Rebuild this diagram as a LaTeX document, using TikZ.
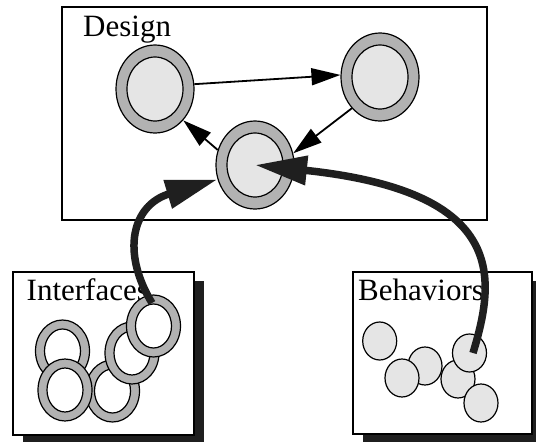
\documentclass[tikz,border=0pt]{standalone}
\usepackage{fontspec}
\setmainfont{Liberation Serif}
\usetikzlibrary{arrows.meta,shapes.geometric}
\tikzset{
  frame/.style={draw=black,line width=1.2pt,fill=white},
  shadowbox/.style={fill=black!88,draw=none},
  title text/.style={font=\fontsize{31}{37}\selectfont,anchor=base west,inner sep=0pt},
  statering/.style={ellipse,draw=black,line width=1.2pt,fill=gray!60,
    minimum width=78pt,minimum height=88pt,inner sep=0pt},
  statecore/.style={ellipse,draw=black,line width=1.2pt,fill=gray!20,
    minimum width=56pt,minimum height=64pt,inner sep=0pt},
  portring/.style={ellipse,draw=black,line width=1.2pt,fill=gray!60,
    minimum width=54pt,minimum height=62pt,inner sep=0pt},
  porthole/.style={ellipse,draw=black,line width=1.2pt,fill=white,
    minimum width=36pt,minimum height=44pt,inner sep=0pt},
  behdisc/.style={ellipse,draw=black,line width=1.2pt,fill=gray!20,
    minimum width=34pt,minimum height=38pt,inner sep=0pt},
  thin arrow/.style={draw=black,line width=1.8pt,-{Triangle[length=29pt,width=17pt]}},
  thick arrow/.style={draw=black!88,line width=7.5pt,-{Triangle[length=52pt,width=28pt]}},
}
\begin{document}
\begin{tikzpicture}[x=1pt,y=-1pt]
\useasboundingbox (0,0) rectangle (536,442);

% ---- Design panel ----
\path[frame] (62,7) rectangle (487,220);
\node[title text] (designlabel) at (83,36) {Design};

\node[statering] (L) at (155,89) {};
\node[statecore] (Li) at (L.center) {};
\node[statering] (R) at (380,77) {};
\node[statecore] (Ri) at (R.center) {};
\node[statering] (C) at (255,165) {};
\node[statecore] (Ci) at (C.center) {};

\draw[thin arrow] (L.7) -- (R.177);
\draw[thin arrow] (C.158) -- (L.312);
\draw[thin arrow] (R.228) -- (C.17);

% ---- Interfaces panel ----
\path[shadowbox] (23,281) rectangle (204,443);
\path[frame] (13,272) rectangle (194,435);
\node[title text] (iflabel) at (26.5,300) {Interfaces};

\node[portring] (A) at (62.5,351) {};
\node[porthole] (Ah) at (A.center) {};
\node[portring] (Cc) at (112.5,391) {};
\node[porthole] (Cch) at (Cc.center) {};
\node[portring] (B) at (65,390) {};
\node[porthole] (Bh) at (B.center) {};
\node[portring] (D) at (132,353) {};
\node[porthole] (Dh) at (D.center) {};
\node[portring] (E) at (153.5,326) {};
\node[porthole] (Eh) at (E.center) {};

% ---- Behaviors panel ----
\path[shadowbox] (363,281) rectangle (542,443);
\path[frame] (353,272) rectangle (532,434);
\node[title text] (behlabel) at (358,300) {Behaviors};

\node[behdisc] (b1) at (379.7,341) {};
\node[behdisc] (b2) at (425,366) {};
\node[behdisc] (b3) at (402,378) {};
\node[behdisc] (b4) at (458,379) {};
\node[behdisc] (b5) at (469.5,353) {};
\node[behdisc] (b6) at (481,403) {};

% ---- links into the design ----
\coordinate (s1) at (152,303);
\coordinate (s2) at (473,353);
\draw[thick arrow] (s1) .. controls (121,252) and (132,205) .. (C.201);
\draw[thick arrow] (s2) .. controls (495,280) and (510,192) .. (C.center);
\end{tikzpicture}
\end{document}
